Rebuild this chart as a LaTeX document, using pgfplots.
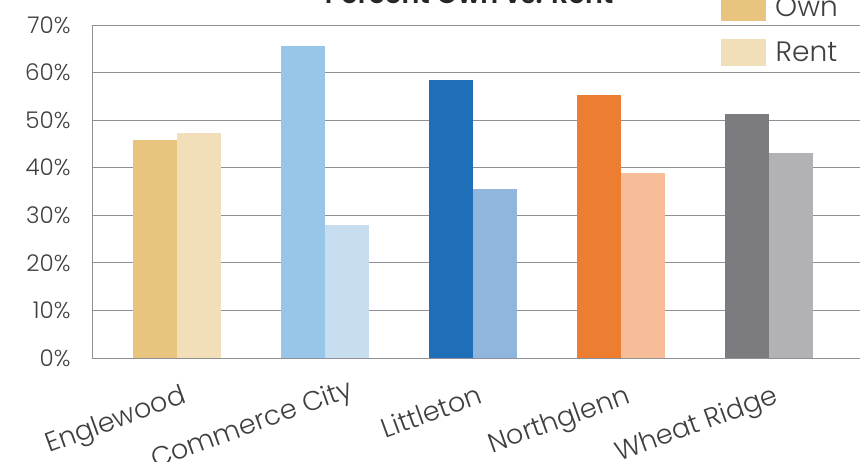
\documentclass[border=0pt]{standalone}
\usepackage{fontspec}
\setmainfont{Poppins}[UprightFont={* Light}, BoldFont={* SemiBold}]
\usepackage{pgfplots}
\pgfplotsset{compat=1.18}
\definecolor{engOwn}{HTML}{E8C47F}
\definecolor{engRent}{HTML}{F2DFBA}
\definecolor{ccOwn}{HTML}{98C6E8}
\definecolor{ccRent}{HTML}{C7DEF1}
\definecolor{litOwn}{HTML}{1F6EB8}
\definecolor{litRent}{HTML}{90B6DD}
\definecolor{ngOwn}{HTML}{ED7D31}
\definecolor{ngRent}{HTML}{F7BD98}
\definecolor{wrOwn}{HTML}{7C7C80}
\definecolor{wrRent}{HTML}{B2B2B4}
\definecolor{gridgray}{HTML}{8E8E96}
\definecolor{labelgray}{HTML}{3F3F3F}
\begin{document}
\begin{tikzpicture}
\begin{axis}[
  at={(0,0)}, anchor=south west,
  scale only axis, width=768pt, height=333pt,
  ymin=0, ymax=70, ytick={0,10,...,70},
  xmin=-0.574, xmax=4.615,
  xtick={0,1,2,3,4},
  xticklabels={Englewood, Commerce City, Littleton, Northglenn, Wheat Ridge},
  axis lines*=left,
  axis line style={draw=gridgray, line width=0.9pt},
  ymajorgrids, grid style={draw=gridgray, line width=0.9pt},
  major tick length=0pt, tick style={draw=none},
  /pgf/number format/assume math mode=true,
  yticklabel={\pgfmathprintnumber{\tick}\%},
  yticklabel style={font=\fontsize{23}{23}\selectfont, text=labelgray, xshift=-18pt},
  xticklabel style={font=\fontsize{27}{27}\selectfont, text=labelgray, rotate=20, anchor=north east,
    xshift={-2+20*(\ticknum==1)}, yshift=-22pt},
  ybar, bar width=44pt,
  legend entries={Own, Rent},
  legend style={at={(axis description cs:0.819,1.093)}, anchor=north west, draw=none, fill=none,
    font=\fontsize{28}{28}\selectfont, text=labelgray, row sep=18pt, inner sep=0pt},
  legend image code/.code={\fill[#1] (0pt,-13.5pt) rectangle (45pt,13.5pt); \path (0pt,0pt) -- (52pt,0pt);},
  title={Percent Own vs. Rent},
  title style={at={(0.491,1)}, anchor=base, yshift=16pt, font=\bfseries\fontsize{27}{27}\selectfont, text=black!85},
]
\addplot[fill=engOwn, draw=none, bar shift=-22pt] coordinates {(0,45.8)};
\addplot[fill=engRent, draw=none, bar shift=22pt] coordinates {(0,47.3)};
\addplot[fill=ccOwn, draw=none, bar shift=-22pt] coordinates {(1,65.5)};
\addplot[fill=ccRent, draw=none, bar shift=22pt] coordinates {(1,27.9)};
\addplot[fill=litOwn, draw=none, bar shift=-22pt] coordinates {(2,58.4)};
\addplot[fill=litRent, draw=none, bar shift=22pt] coordinates {(2,35.5)};
\addplot[fill=ngOwn, draw=none, bar shift=-22pt] coordinates {(3,55.3)};
\addplot[fill=ngRent, draw=none, bar shift=22pt] coordinates {(3,38.9)};
\addplot[fill=wrOwn, draw=none, bar shift=-22pt] coordinates {(4,51.3)};
\addplot[fill=wrRent, draw=none, bar shift=22pt] coordinates {(4,43.1)};
\end{axis}
\pgfresetboundingbox
\path[use as bounding box] (-92pt,-103pt) rectangle (770pt,358pt);
\end{tikzpicture}
\end{document}
